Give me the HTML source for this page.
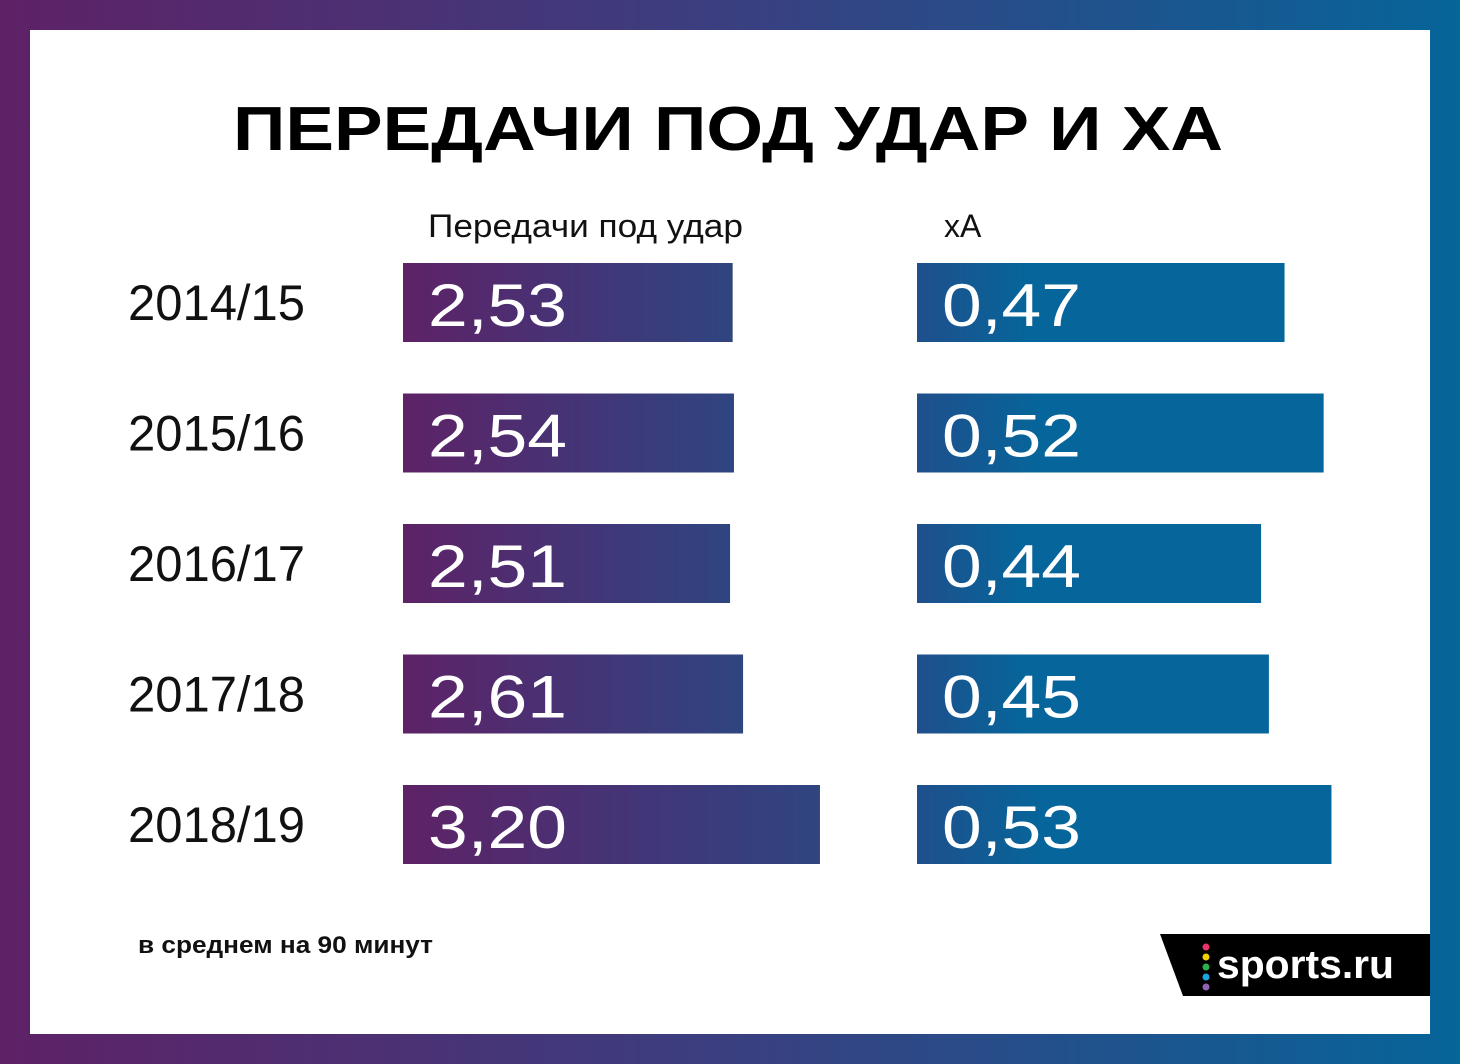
<!DOCTYPE html>
<html><head><meta charset="utf-8"><style>
html,body{margin:0;padding:0;width:1460px;height:1064px;overflow:hidden}
svg{display:block}
text{font-family:"Liberation Sans",sans-serif}
</style></head><body>
<svg width="1460" height="1064" viewBox="0 0 1460 1064">
<defs>
<linearGradient id="frame" x1="0" x2="1" y1="0" y2="0"><stop offset="0" stop-color="#5e2166"/><stop offset="0.5" stop-color="#3a3f80"/><stop offset="1" stop-color="#066599"/></linearGradient>
<linearGradient id="lg" x1="0" x2="1" y1="0" y2="0"><stop offset="0" stop-color="#5e2266"/><stop offset="0.55" stop-color="#433577"/><stop offset="1" stop-color="#2f4580"/></linearGradient>
<linearGradient id="rg" x1="0" x2="1" y1="0" y2="0"><stop offset="0" stop-color="#1f4f8c"/><stop offset="0.3" stop-color="#06659a"/><stop offset="1" stop-color="#06659a"/></linearGradient>
</defs>
<rect x="0" y="0" width="1460" height="1064" fill="url(#frame)"/>
<rect x="30" y="30" width="1400" height="1004" fill="#fff"/>
<text x="233" y="150" font-size="62" font-weight="bold" textLength="990" lengthAdjust="spacingAndGlyphs" fill="#000">ПЕРЕДАЧИ ПОД УДАР И XA</text>
<text x="428" y="237" font-size="32" textLength="315" lengthAdjust="spacingAndGlyphs" fill="#111">Передачи под удар</text>
<text x="944" y="237" font-size="32" fill="#111">xA</text>
<g id="rows"></g>
<text x="138" y="953" font-size="24" font-weight="bold" textLength="295" lengthAdjust="spacingAndGlyphs" fill="#111">в среднем на 90 минут</text>
<g>
<polygon points="1160,934 1430,934 1430,996 1183,996" fill="#000"/>
<circle cx="1206" cy="947" r="3.5" fill="#e8336b"/>
<circle cx="1206" cy="957" r="3.5" fill="#f5d000"/>
<circle cx="1206" cy="967" r="3.5" fill="#2bb34a"/>
<circle cx="1206" cy="977" r="3.5" fill="#19a6e0"/>
<circle cx="1206" cy="987" r="3.5" fill="#8e63b0"/>
<text x="1217" y="978" font-size="40" font-weight="bold" fill="#fff" textLength="177" lengthAdjust="spacingAndGlyphs">sports.ru</text>
</g>
</svg>
<script>
const seasons = ["2014/15","2015/16","2016/17","2017/18","2018/19"];
const passes = [2.53,2.54,2.51,2.61,3.20];
const xa = [0.47,0.52,0.44,0.45,0.53];
const NS="http://www.w3.org/2000/svg";
const g=document.getElementById('rows');
const xL=v=>130.3*v, xR=v=>782*v, rowY=i=>263+i*130.5;
function fmt(v){return v.toFixed(2).replace('.',',');}
function mk(tag,attrs,txt){const e=document.createElementNS(NS,tag);for(const k in attrs)e.setAttribute(k,attrs[k]);if(txt!=null)e.textContent=txt;g.appendChild(e);return e;}
seasons.forEach((s,i)=>{
  const y=rowY(i);
  const lab=mk('text',{x:128,y:y+57,'font-size':50,fill:'#111',textLength:177,lengthAdjust:'spacingAndGlyphs'},s);
  
  
  const b1=mk('rect',{x:403,y:y,width:xL(passes[i]),height:79,fill:'url(#lg)'});
  
  
  const t1=mk('text',{x:428,y:y+63,'font-size':60,fill:'#fff',textLength:139,lengthAdjust:'spacingAndGlyphs'},fmt(passes[i]));
  
  
  const b2=mk('rect',{x:917,y:y,width:xR(xa[i]),height:79,fill:'url(#rg)'});
  
  
  const t2=mk('text',{x:942,y:y+63,'font-size':60,fill:'#fff',textLength:139,lengthAdjust:'spacingAndGlyphs'},fmt(xa[i]));
  
  
});
</script>
</body></html>
